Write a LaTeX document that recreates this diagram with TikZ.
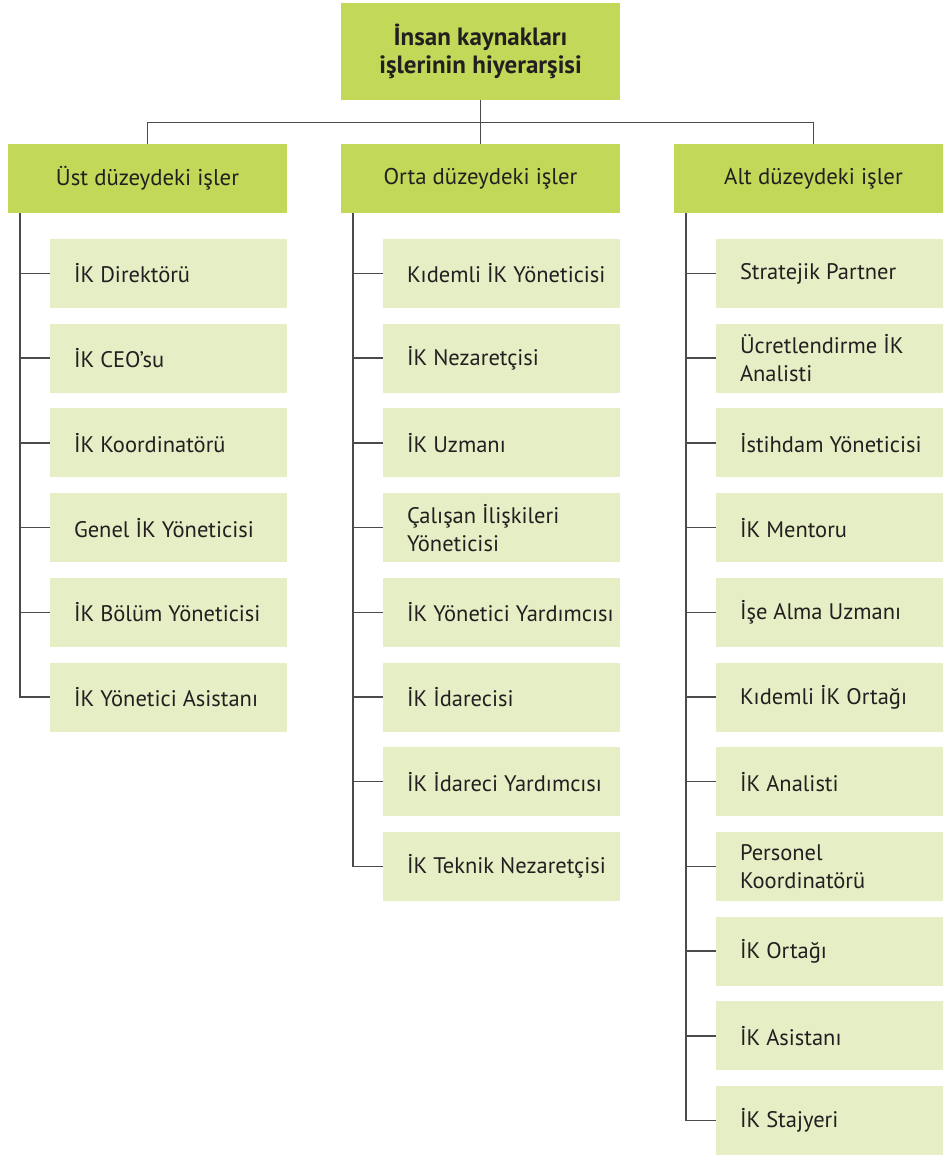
\documentclass[tikz,border=0pt]{standalone}
\usepackage{fontspec}
\setmainfont{PT Sans}
\definecolor{headgreen}{RGB}{194,216,88}
\definecolor{itemgreen}{RGB}{229,238,196}
\definecolor{wire}{RGB}{75,75,75}
\definecolor{ink}{RGB}{35,31,32}
\begin{document}
\begin{tikzpicture}[x=1pt,y=-1pt,
  every node/.style={inner sep=0pt, outer sep=0pt, text=ink},
  titlebox/.style={fill=headgreen, minimum width=279, minimum height=97, align=center,
    font=\fontsize{25}{27.5}\selectfont\bfseries},
  levelbox/.style={fill=headgreen, minimum width=279, minimum height=69,
    font=\fontsize{22.8}{28}\selectfont},
  itembox/.style={fill=itemgreen, minimum width=237, minimum height=69},
  itemtext/.style={anchor=west, align=left, font=\fontsize{22.5}{28}\selectfont},
  wireline/.style={draw=wire, line width=1.5pt}]
\path[use as bounding box, clip] (0,0) rectangle (943,1156);

% top and level boxes
\node[titlebox] (top) at (480.5,51.5) {İnsan kaynakları\\işlerinin hiyerarşisi};
\node[levelbox] (lev1) at (147.5,178.5) {Üst düzeydeki işler};
\node[levelbox] (lev2) at (480.5,178.5) {Orta düzeydeki işler};
\node[levelbox] (lev3) at (813.5,178.5) {Alt düzeydeki işler};

\coordinate (hub) at (480.5,122.7);
\draw[wireline] (lev1.north) |- (hub) -| (lev3.north);
\draw[wireline] (top.south) -- (lev2.north);

% column boxes: \colitems{prefix}{x centre}{list}
\newcommand{\colitems}[3]{%
  \foreach \t [count=\k] in {#3} {
    \node[itembox] (#1\k) at (#2, 273.5+84.7*\k-84.7) {};
    \node[itemtext] (#1t\k) at ([xshift=24pt]#1\k.west) {\t};
  }}

\colitems{a}{168.5}{İK Direktörü, İK CEO’su, İK Koordinatörü, Genel İK Yöneticisi,
  İK Bölüm Yöneticisi, İK Yönetici Asistanı}
\colitems{b}{501.5}{Kıdemli İK Yöneticisi, İK Nezaretçisi, İK Uzmanı,
  {Çalışan İlişkileri\\Yöneticisi}, İK Yönetici Yardımcısı, İK İdarecisi,
  İK İdareci Yardımcısı, İK Teknik Nezaretçisi}
\colitems{c}{834.5}{Stratejik Partner, {Ücretlendirme İK\\Analisti},
  İstihdam Yöneticisi, İK Mentoru, İşe Alma Uzmanı, Kıdemli İK Ortağı,
  İK Analisti, {Personel\\Koordinatörü}, İK Ortağı, İK Asistanı, İK Stajyeri}

% spines and branches
\coordinate (sa) at ([xshift=12pt]lev1.south west);
\coordinate (sb) at ([xshift=12pt]lev2.south west);
\coordinate (sc) at ([xshift=12pt]lev3.south west);
\draw[wireline] (sa) |- (a6.west);
\foreach \k in {1,...,5} \draw[wireline] (a\k.west) -- (a\k.west -| sa);
\draw[wireline] (sb) |- (b8.west);
\foreach \k in {1,...,7} \draw[wireline] (b\k.west) -- (b\k.west -| sb);
\draw[wireline] (sc) |- (c11.west);
\foreach \k in {1,...,10} \draw[wireline] (c\k.west) -- (c\k.west -| sc);
\end{tikzpicture}
\end{document}
